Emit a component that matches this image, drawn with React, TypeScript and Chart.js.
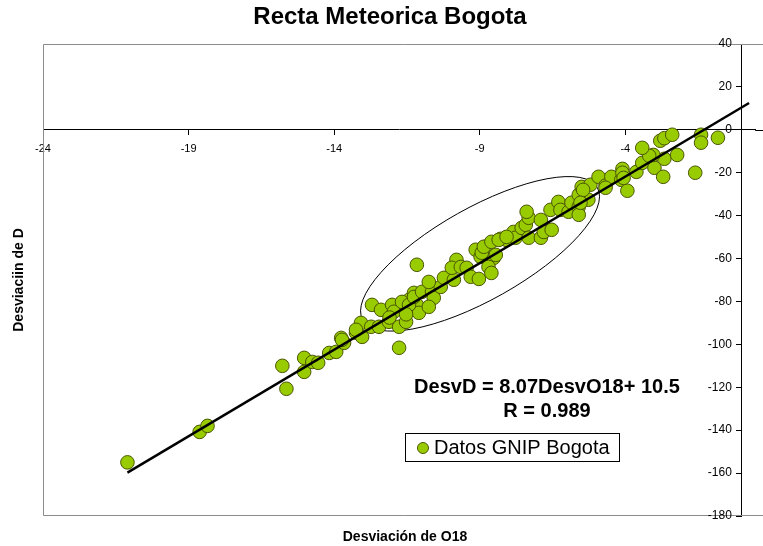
import React, { useEffect, useRef } from "react";
import { Chart, registerables } from "chart.js";

Chart.register(...registerables);

const chartTitle = "Recta Meteorica Bogota";
const xAxisTitle = "Desviación de O18";
const yAxisTitle = "Desviaciin de D";
const seriesLabel = "Datos GNIP Bogota";
const equationLines = ["DesvD = 8.07DesvO18+ 10.5", "R = 0.989"];

// Desviación de O18 (x) and Desviación de D (y)
const desvO18 = [
  -21.1, -18.62, -18.35, -15.78, -15.64, -15.03, -15.03, -14.75, -14.55, -14.17,
  -13.93, -13.66, -13.76, -13.25, -13.73, -13.04, -13.08, -13.25, -12.73, -12.46,
  -12.7, -12.39, -12.12, -12.01, -11.95, -11.77, -11.53, -11.53, -11.43, -11.16,
  -11.26, -11.09, -11.77, -11.16, -11.67, -11.43, -11.26, -10.98, -10.64, -10.58,
  -10.75, -10.34, -10.75, -10.23, -9.89, -9.8, -9.96, -9.65, -9.45, -9.31,
  -9.03, -9.14, -8.97, -8.8, -8.52, -8.7, -8.6, -8.28, -8.08, -8.93,
  -8.86, -8.6, -8.35, -8.45, -7.84, -7.77, -8.08, -7.56, -7.42, -7.32,
  -7.39, -7.32, -6.9, -6.9, -6.8, -6.53, -6.57, -6.3, -6.23, -5.95,
  -5.85, -5.6, -5.6, -5.27, -5.6, -5.5, -5.2, -4.92, -4.68, -5.45,
  -5.54, -4.48, -4.68, -4.14, -3.93, -4.1, -4.1, -3.62, -3.42, -3.0,
  -2.7, -2.66, -3.04, -3.18, -2.22, -3.42, -2.8, -2.66, -2.39, -1.4,
  -1.4, -0.82, -1.6, -12.1, -11.53, -4.06,
];
const desvD = [
  -155, -140.8, -138, -110, -120.7, -106.3, -112.8, -108.2, -108.6, -104,
  -103.5, -99.3, -97, -94.6, -97.9, -96.5, -90, -93.2, -91.8, -91.8,
  -81.6, -83.9, -89.5, -81.6, -84.8, -91.8, -89.5, -82.5, -79.3, -81.6,
  -76, -85.3, -101.6, -62.9, -80.2, -81.6, -77.9, -75.5, -75.5, -78.3,
  -82.5, -73.2, -70.9, -69, -69.9, -60.6, -64.3, -63.9, -64.3, -68.5,
  -69.5, -55.9, -59.2, -54.5, -59.7, -63.9, -66.7, -50.8, -51.3, -57.3,
  -54.5, -52.2, -51.3, -58.3, -47.6, -50.3, -49.9, -45.7, -44.3, -41,
  -38.2, -50.3, -50.3, -42, -47.6, -46.6, -37.3, -33.6, -37.3, -38.2,
  -34, -35.9, -39.6, -32.6, -30.3, -26.6, -25.6, -21.9, -26, -28,
  -34, -21.9, -27, -23.3, -28.4, -18.2, -20, -19.6, -15.4, -17.7,
  -21.9, -13.5, -11.7, -12.1, -11.7, -8.4, -5.1, -3.9, -2.3, -2.3,
  -6, -3.7, -20, -87.5, -86, -22.4,
];

const xTickValues = [-24, -19, -14, -9, -4];
const xMin = -24;
const xMax = 0.46;
const yMin = -180;
const yMax = 40;
const yStep = 20;

// Trend line DesvD = 8.07 * DesvO18 + 10.5 and its x extent
const fitSlope = 8.07;
const fitIntercept = 10.5;
const fitX = [-21.1, 0.25];

// Hand-drawn ellipse: ends of its long axis in data units
const ellipseEndX = [-13.02, -4.96];
const ellipseEndY = [-88.6, -27.0];

const FONT = "'Liberation Sans', Arial, Helvetica, sans-serif";

const overlayPlugin = {
  id: "overlay",
  beforeDatasetsDraw(chart: any) {
    const { ctx, chartArea: a, scales, width } = chart;
    const xs = scales.x;
    const ys = scales.y;
    ctx.save();
    ctx.strokeStyle = "#8c8c8c";
    ctx.lineWidth = 1;
    ctx.beginPath();
    ctx.moveTo(width, a.top + 0.5);
    ctx.lineTo(a.left + 0.5, a.top + 0.5);
    ctx.lineTo(a.left + 0.5, a.bottom - 0.5);
    ctx.lineTo(width, a.bottom - 0.5);
    ctx.stroke();
    // x axis line continues to the right edge
    ctx.strokeStyle = "#000";
    const zy = Math.round(ys.getPixelForValue(0)) + 0.5;
    ctx.beginPath();
    ctx.moveTo(a.right, zy);
    ctx.lineTo(width, zy);
    ctx.stroke();
    const x1 = xs.getPixelForValue(ellipseEndX[0]);
    const x2 = xs.getPixelForValue(ellipseEndX[1]);
    const y1 = ys.getPixelForValue(ellipseEndY[0]);
    const y2 = ys.getPixelForValue(ellipseEndY[1]);
    const cx = (x1 + x2) / 2;
    const cy = (y1 + y2) / 2;
    const rx = Math.hypot(x2 - x1, y2 - y1) / 2;
    const ang = Math.atan2(y2 - y1, x2 - x1);
    ctx.beginPath();
    ctx.ellipse(cx, cy, rx, 46, ang, 0, Math.PI * 2);
    ctx.strokeStyle = "#000";
    ctx.lineWidth = 1;
    ctx.stroke();
    ctx.restore();
  },
  afterDraw(chart: any) {
    const { ctx, scales } = chart;
    const xs = scales.x;
    const ys = scales.y;
    ctx.save();
    ctx.fillStyle = "#000";
    // title
    ctx.font = `bold 24px ${FONT}`;
    ctx.textAlign = "center";
    ctx.textBaseline = "middle";
    ctx.fillText(chartTitle, 390, 17);
    // axis titles
    ctx.font = `bold 14px ${FONT}`;
    ctx.fillText(xAxisTitle, 405, 537);
    ctx.save();
    ctx.translate(19, 280);
    ctx.rotate(-Math.PI / 2);
    ctx.fillText(yAxisTitle, 0, 0);
    ctx.restore();
    // y tick labels, left of the axis line
    const axisX = xs.getPixelForValue(0);
    ctx.font = `12px ${FONT}`;
    ctx.textAlign = "right";
    ctx.textBaseline = "middle";
    ys.ticks.forEach((t: any) => {
      ctx.fillText(String(t.value), axisX - 10, ys.getPixelForValue(t.value));
    });
    // equation
    ctx.font = `bold 20px ${FONT}`;
    ctx.textAlign = "center";
    ctx.fillText(equationLines[0], 547, 387);
    ctx.fillText(equationLines[1], 547, 411);
    // legend
    ctx.fillStyle = "#fff";
    ctx.fillRect(405, 433, 214, 28);
    ctx.strokeStyle = "#000";
    ctx.lineWidth = 1;
    ctx.strokeRect(405.5, 433.5, 214, 28);
    ctx.beginPath();
    ctx.arc(423, 448, 5.5, 0, Math.PI * 2);
    ctx.fillStyle = "#99CC00";
    ctx.fill();
    ctx.strokeStyle = "#4d5900";
    ctx.stroke();
    ctx.fillStyle = "#000";
    ctx.font = `20px ${FONT}`;
    ctx.textAlign = "left";
    ctx.fillText(chart.data.datasets[1].label, 434, 448);
    ctx.restore();
  },
};

export default function App() {
  const canvasRef = useRef<HTMLCanvasElement | null>(null);

  useEffect(() => {
    if (!canvasRef.current) return;
    const points = desvO18.map((x, i) => ({ x, y: desvD[i] }));
    const fitPoints = fitX.map((x) => ({ x, y: fitSlope * x + fitIntercept }));
    const chart = new Chart(canvasRef.current, {
      type: "scatter",
      data: {
        datasets: [
          {
            type: "line",
            label: "Recta",
            data: fitPoints,
            borderColor: "#000",
            borderWidth: 2.5,
            pointRadius: 0,
            fill: false,
            showLine: true,
            order: 0,
          } as any,
          {
            label: seriesLabel,
            data: points,
            backgroundColor: "#99CC00",
            borderColor: "#4a5500",
            borderWidth: 1,
            pointRadius: 6.8,
            order: 1,
          },
        ],
      },
      options: {
        responsive: false,
        animation: false,
        devicePixelRatio: 1,
        layout: { padding: { left: 43, top: 44, right: 0, bottom: 30 } },
        plugins: {
          legend: { display: false },
          title: { display: false },
          tooltip: { enabled: false },
        },
        scales: {
          x: {
            type: "linear",
            min: xMin,
            max: xMax,
            position: { y: 0 } as any,
            afterBuildTicks: (scale: any) => {
              scale.ticks = xTickValues.map((v) => ({ value: v }));
            },
            ticks: {
              autoSkip: false,
              maxRotation: 0,
              minRotation: 0,
              padding: 8,
              color: "#000",
              font: { family: FONT, size: 11 },
            },
            grid: { display: true, drawOnChartArea: false, drawTicks: true, tickLength: 5, color: "#000" },
            border: { display: true, color: "#000", width: 1 },
          },
          y: {
            type: "linear",
            min: yMin,
            max: yMax,
            position: { x: 0 } as any,
            ticks: { stepSize: yStep, display: false },
            grid: { display: true, drawOnChartArea: false, drawTicks: true, tickLength: 5, color: "#000" },
            border: { display: true, color: "#000", width: 1 },
          },
        },
      },
      plugins: [overlayPlugin],
    });
    return () => chart.destroy();
  }, []);

  return (
    <div style={{ position: "absolute", left: 0, top: 0, width: 763, height: 546, background: "#fff" }}>
      <canvas ref={canvasRef} width={763} height={546} style={{ display: "block" }} />
    </div>
  );
}
